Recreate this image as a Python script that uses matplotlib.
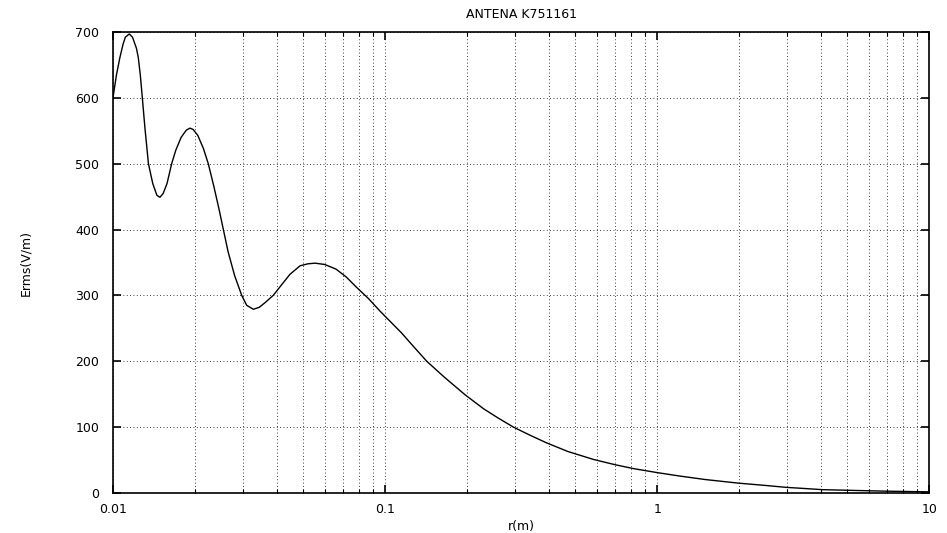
import numpy as np
import matplotlib
matplotlib.use('Agg')
import matplotlib.pyplot as plt
from matplotlib.ticker import LogLocator, FixedLocator, FixedFormatter, NullFormatter

plt.rcParams['font.family'] = ['DejaVu Sans']

# values
r = [0.01, 0.0103, 0.0106, 0.0109, 0.0111, 0.01148, 0.0118, 0.0122, 0.01239, 0.0126,
     0.01282, 0.0131, 0.0135, 0.0140, 0.0145, 0.01488, 0.0153, 0.0158, 0.01643, 0.0170,
     0.0178, 0.0186, 0.01919, 0.0197, 0.0205, 0.0215, 0.0224, 0.0235, 0.0245,
     0.02545, 0.0265, 0.0280, 0.02973, 0.0310, 0.0328, 0.0345, 0.0362, 0.0388,
     0.0420, 0.0447, 0.0487, 0.052, 0.0553, 0.060, 0.066, 0.072, 0.0787, 0.087,
     0.0959, 0.115, 0.125, 0.1423, 0.165, 0.197, 0.23, 0.26, 0.2965, 0.34, 0.393,
     0.47, 0.583, 0.7, 0.82, 1.0, 1.2, 1.5, 1.99, 2.5, 2.98, 3.5, 4.05, 5.0, 6.0,
     7.0, 8.0, 9.1, 10.0]
erms = [600, 635, 661, 682, 692, 697, 692, 675, 661, 635,
        600, 555, 500, 470, 452, 449, 455, 470, 500, 520,
        540, 551, 554, 552, 543, 523, 500, 465, 432,
        400, 366, 330, 300, 285, 279, 282, 289, 300,
        318, 332, 345, 348, 349, 347, 340, 328, 312, 295,
        276, 243, 226, 200, 176, 149, 128, 114, 100, 88, 76,
        63, 51, 43, 37, 31, 26, 20.5, 15, 11.5, 8.6, 6.8, 5.1, 4.2, 3.4,
        2.8, 2.4, 2.0, 1.8]

xticks = [0.01, 0.1, 1, 10]
xticklabels = ['0.01', '0.1', '1', '10']
yticks = [0, 100, 200, 300, 400, 500, 600, 700]

fig = plt.figure(figsize=(9.47, 5.33), dpi=100)
ax = fig.add_axes([0.1193, 0.075, 0.862, 0.865])

ax.plot(r, erms, color='black', lw=1.0)

ax.set_xscale('log')
ax.set_xlim(0.01, 10)
ax.set_ylim(0, 700)
ax.xaxis.set_major_locator(FixedLocator(xticks))
ax.xaxis.set_major_formatter(FixedFormatter(xticklabels))
ax.xaxis.set_minor_locator(LogLocator(base=10, subs=np.arange(2, 10)))
ax.xaxis.set_minor_formatter(NullFormatter())
ax.set_yticks(yticks)

ax.grid(True, which='both', axis='x', color='black', linestyle=(0, (1, 3)), lw=0.6)
ax.grid(True, which='major', axis='y', color='black', linestyle=(0, (1, 3)), lw=0.6)

ax.tick_params(which='both', direction='in', top=True, right=True, labelsize=9)
ax.tick_params(which='major', length=6, width=1.2)
ax.tick_params(axis='x', which='major', pad=7)
ax.tick_params(axis='y', which='major', pad=10)
ax.tick_params(which='minor', length=3, width=0.8)
for s in ax.spines.values():
    s.set_linewidth(1.2)

ax.set_title('ANTENA K751161', fontsize=9, pad=10)
ax.set_xlabel('r(m)', fontsize=9, labelpad=3)
ax.set_ylabel('Erms(V/m)', fontsize=9, labelpad=31)

plt.savefig('out.png', dpi=100)
